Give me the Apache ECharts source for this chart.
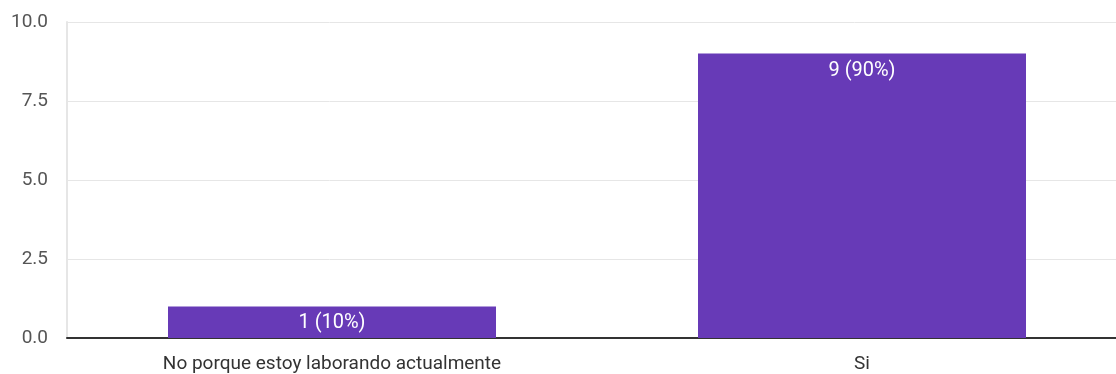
<!DOCTYPE html>
<html>
<head>
<meta charset="utf-8">
<script src="https://cdn.jsdelivr.net/npm/echarts@6/dist/echarts.min.js"></script>
<style>
  html, body { margin: 0; padding: 0; background: #fff; }
  #chart { width: 1116px; height: 374px; }
</style>
</head>
<body>
<div id="chart"></div>
<script>
var categories = ['No porque estoy laborando actualmente', 'Si']
var counts = [1, 9]
var percents = ['10%', '90%']
var yTicks = ['0.0', '2.5', '5.0', '7.5', '10.0']

var myChart = echarts.init(document.getElementById('chart'))

var option = {
  backgroundColor: '#fff',
  animation: false,
  grid: {
    left: 67,
    top: 22,
    bottom: 36,
    width: 1060,
    outerBoundsMode: 'none'
  },
  xAxis: {
    type: 'category',
    data: categories,
    axisTick: { show: false },
    axisLine: { lineStyle: { color: '#333', width: 2 } },
    axisLabel: {
      color: '#333',
      fontSize: 19,
      fontFamily: 'Roboto, Arial, sans-serif',
      margin: 17
    }
  },
  yAxis: {
    type: 'value',
    min: 0,
    max: 10,
    interval: 2.5,
    axisLine: { show: true, lineStyle: { color: '#e6e6e6', width: 2 } },
    axisTick: { show: false },
    splitLine: { lineStyle: { color: '#e6e6e6', width: 1 } },
    axisLabel: {
      color: '#555',
      fontSize: 19,
      fontFamily: 'Roboto, Arial, sans-serif',
      margin: 19,
      formatter: function (v) {
        return yTicks[Math.round(v / 2.5)]
      }
    }
  },
  series: [
    {
      type: 'bar',
      data: counts,
      barWidth: 328,
      itemStyle: { color: '#673ab7' },
      label: {
        show: true,
        position: 'insideTop',
        distance: 7,
        color: '#fff',
        fontSize: 20,
        fontFamily: 'Roboto, Arial, sans-serif',
        formatter: function (p) {
          return p.value + ' (' + percents[p.dataIndex] + ')'
        }
      }
    }
  ]
}

myChart.setOption(option)
</script>
</body>
</html>
